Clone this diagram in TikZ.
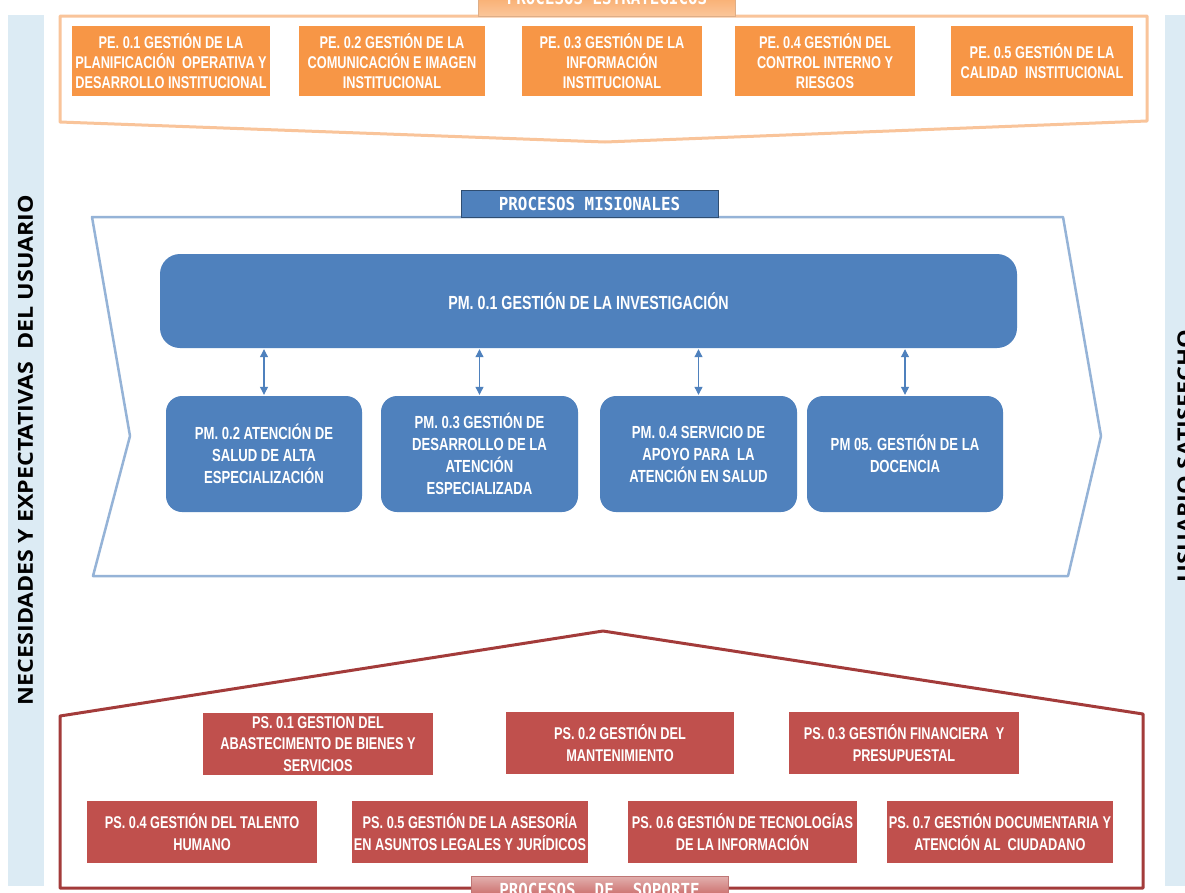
\documentclass[tikz,border=0pt]{standalone}
\usepackage{fontspec}
\usepackage{graphicx}
\setmainfont{Liberation Sans}
\newfontfamily\narrowfont[FakeStretch=0.75]{Liberation Sans}
\newfontfamily\labelfont[FakeStretch=0.88]{DejaVu Sans Mono}
\newfontfamily\sidefont{Open Sans}
\usetikzlibrary{arrows.meta}

\definecolor{peorange}{HTML}{F79646}
\definecolor{peline}{HTML}{F9C49A}
\definecolor{pmblue}{HTML}{4F81BD}
\definecolor{pmline}{HTML}{95B3D7}
\definecolor{psred}{HTML}{C0504D}
\definecolor{psline}{HTML}{A33B3A}
\definecolor{stripblue}{HTML}{DCEBF4}

\begin{document}
\begin{tikzpicture}[x=1pt,y=-1pt,
  boxtext/.style={text=white, align=center, inner sep=0pt,
    font=\narrowfont\bfseries\fontsize{17}{20}\selectfont},
  pebox/.style={boxtext, fill=peorange, minimum height=70pt},
  pmbox/.style={boxtext, fill=pmblue, rounded corners=16pt, minimum height=116pt,
    font=\narrowfont\bfseries\fontsize{17.5}{22}\selectfont},
  psbox/.style={boxtext, fill=psred, minimum height=62pt,
    font=\narrowfont\bfseries\fontsize{17}{21.5}\selectfont},
  grouplabel/.style={text=white, inner sep=0pt, minimum width=257pt, minimum height=28pt,
    font=\labelfont\bfseries\fontsize{18}{20}\selectfont},
  updown/.style={{Triangle[width=8pt,length=8pt]}-{Triangle[width=8pt,length=8pt]},
    draw=pmblue, line width=1.1pt, shorten <=1pt, shorten >=1pt},
  sidetext/.style={rotate=90, inner sep=0pt}
]
\fill[white] (0,0) rectangle (1185,892);
\useasboundingbox (0,0) rectangle (1185,892);

% side strips
\fill[stripblue] (8,15) rectangle (44,886);
\fill[stripblue] (1165,15) rectangle (1201,886);
\node[sidetext] (needs) at (25.5,450)
  {\resizebox{510pt}{15pt}{\sidefont\bfseries NECESIDADES Y EXPECTATIVAS\ \ DEL USUARIO}};
\node[sidetext] (satisfied) at (1185,456)
  {\resizebox{252pt}{15pt}{\sidefont\bfseries USUARIO SATISFECHO}};

% strategic processes
\draw[peline, line width=3pt, line join=round, fill=white]
  (60,16) -- (1147,16) -- (1147,121) -- (605,142) -- (60,122) -- cycle;
\node[grouplabel, top color=peorange, bottom color=peorange!55, draw=peorange!80!black!60,
  minimum height=40pt] (strat) at (607,-4) {PROCESOS ESTRATÉGICOS};
\node[pebox, minimum width=198pt] (pe1) at (171,61)
  {PE. 0.1 GESTIÓN DE LA\\PLANIFICACIÓN\ \ OPERATIVA Y\\DESARROLLO INSTITUCIONAL};
\node[pebox, minimum width=186pt] (pe2) at (392,61)
  {PE. 0.2 GESTIÓN DE LA\\COMUNICACIÓN E IMAGEN\\INSTITUCIONAL};
\node[pebox, minimum width=180pt] (pe3) at (612,61)
  {PE. 0.3 GESTIÓN DE LA\\INFORMACIÓN\\INSTITUCIONAL};
\node[pebox, minimum width=180pt] (pe4) at (825,61)
  {PE. 0.4 GESTIÓN DEL\\CONTROL INTERNO Y\\RIESGOS};
\node[pebox, minimum width=182pt] (pe5) at (1042,61)
  {PE. 0.5 GESTIÓN DE LA\\CALIDAD\ \ INSTITUCIONAL};

% mission processes
\draw[pmline, line width=2.5pt, line join=round]
  (92,217) -- (1063,217) -- (1101,436) -- (1068,576) -- (93,576) -- (130,436) -- cycle;
\node[grouplabel, fill=pmblue, draw=pmblue!60!black, minimum height=27pt]
  (mis) at (589.5,203.5) {PROCESOS MISIONALES};
\node[pmbox, minimum width=857pt, minimum height=94pt, rounded corners=20pt,
  font=\narrowfont\bfseries\fontsize{19}{22}\selectfont] (pm1) at (588.5,301)
  {PM. 0.1 GESTIÓN DE LA INVESTIGACIÓN};
\node[pmbox, minimum width=196pt] (pm2) at (264,454)
  {PM. 0.2 ATENCIÓN DE\\SALUD\ DE ALTA\\ESPECIALIZACIÓN};
\node[pmbox, minimum width=197pt] (pm3) at (479.5,454)
  {PM. 0.3 GESTIÓN DE\\DESARROLLO DE LA\\ATENCIÓN\\ESPECIALIZADA};
\node[pmbox, minimum width=197pt] (pm4) at (698.5,454)
  {PM. 0.4\ SERVICIO DE\\APOYO PARA\ \ LA\\ATENCIÓN EN SALUD};
\node[pmbox, minimum width=196pt] (pm5) at (905,454)
  {PM 05. GESTIÓN DE LA\\DOCENCIA};
\foreach \b in {pm2,pm3,pm4,pm5}
  \draw[updown] (\b.north |- pm1.south) -- (\b.north);

% support processes
\draw[psline, line width=3pt, line join=round, fill=white]
  (60,888) -- (60,716) -- (603,631) -- (1143,714) -- (1143,888) -- cycle;
\node[psbox, minimum width=230pt] (ps1) at (318,744)
  {PS. 0.1 GESTION DEL\\ABASTECIMENTO DE BIENES Y\\SERVICIOS};
\node[psbox, minimum width=228pt] (ps2) at (620,743)
  {PS. 0.2 GESTIÓN DEL\\MANTENIMIENTO};
\node[psbox, minimum width=230pt] (ps3) at (904,743)
  {PS. 0.3 GESTIÓN FINANCIERA\ \ Y\\PRESUPUESTAL};
\node[psbox, minimum width=230pt] (ps4) at (202,832)
  {PS. 0.4 GESTIÓN DEL TALENTO\\HUMANO};
\node[psbox, minimum width=236pt] (ps5) at (470,832)
  {PS. 0.5 GESTIÓN DE LA ASESORÍA\\EN ASUNTOS LEGALES Y JURÍDICOS};
\node[psbox, minimum width=229pt] (ps6) at (742.5,832)
  {PS. 0.6 GESTIÓN DE TECNOLOGÍAS\\DE LA INFORMACIÓN};
\node[psbox, minimum width=226pt] (ps7) at (1000,832)
  {PS. 0.7 GESTIÓN DOCUMENTARIA Y\\ATENCIÓN AL\ \ CIUDADANO};
\node[grouplabel, top color=psred!45, bottom color=psred, draw=psline!70]
  (sop) at (599.5,890) {PROCESOS\ \ DE\ \ SOPORTE};
\end{tikzpicture}
\end{document}
